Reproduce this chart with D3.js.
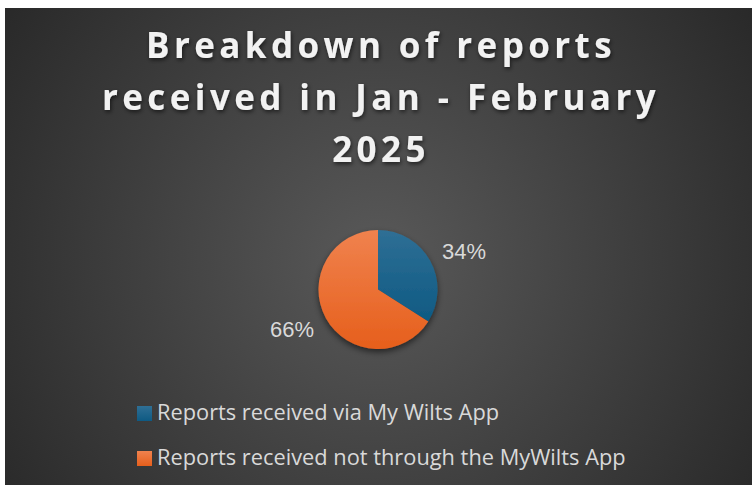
<html>
<head>
<meta charset="utf-8">
<script src="https://d3js.org/d3.v7.min.js"></script>
<style>
  body { margin: 0; background: #fff; }
  svg { display: block; }
</style>
</head>
<body>
<svg id="chart" width="755" height="485"></svg>
<script>
var categories = ["Reports received via My Wilts App", "Reports received not through the MyWilts App"];
var shares = [34, 66];
var pctLabels = ["34%", "66%"];
var titleLines = ["Breakdown of reports", "received in Jan - February", "2025"];

var W = 755, H = 485;
var svg = d3.select("#chart");
var defs = svg.append("defs");

// background radial gradient
var bg = defs.append("radialGradient").attr("id", "bg")
  .attr("gradientUnits", "userSpaceOnUse")
  .attr("cx", 378).attr("cy", 260).attr("r", 480);
bg.append("stop").attr("offset", "0%").attr("stop-color", "#595959");
bg.append("stop").attr("offset", "100%").attr("stop-color", "#262626");

var g0 = defs.append("linearGradient").attr("id", "s0").attr("x1", 0).attr("y1", 0).attr("x2", 0).attr("y2", 1);
g0.append("stop").attr("offset", "0%").attr("stop-color", "#2f6f95");
g0.append("stop").attr("offset", "100%").attr("stop-color", "#0e5a83");
var g1 = defs.append("linearGradient").attr("id", "s1").attr("x1", 0).attr("y1", 0).attr("x2", 0).attr("y2", 1);
g1.append("stop").attr("offset", "0%").attr("stop-color", "#f0824e");
g1.append("stop").attr("offset", "100%").attr("stop-color", "#e65f1c");

var sh = defs.append("filter").attr("id", "shadow").attr("x", "-20%").attr("y", "-20%").attr("width", "140%").attr("height", "140%");
sh.append("feDropShadow").attr("dx", 0).attr("dy", 3).attr("stdDeviation", 3)
  .attr("flood-color", "#000").attr("flood-opacity", 0.55);

var ts = defs.append("filter").attr("id", "tshadow").attr("x", "-10%").attr("y", "-30%").attr("width", "120%").attr("height", "160%");
ts.append("feDropShadow").attr("dx", 1).attr("dy", 2).attr("stdDeviation", 2)
  .attr("flood-color", "#000").attr("flood-opacity", 0.6);

svg.append("rect").attr("x", 5).attr("y", 8).attr("width", 747).attr("height", H - 8)
  .attr("fill", "url(#bg)");

// title
svg.append("g").attr("filter", "url(#tshadow)")
  .selectAll("text").data(titleLines).join("text")
  .attr("x", 381).attr("y", function(d, i) { return 58 + i * 52; })
  .attr("text-anchor", "middle")
  .attr("font-family", "'Open Sans', sans-serif")
  .attr("font-weight", 700)
  .attr("font-size", 35)
  .attr("letter-spacing", 4.4)
  .attr("fill", "#f2f2f2")
  .text(function(d) { return d; });

// pie
var cx = 378, cy = 289.5, R = 59.5;
var pie = d3.pie().sort(null).value(function(d) { return d; });
var arcs = pie(shares);
var arc = d3.arc().innerRadius(0).outerRadius(R);
var pg = svg.append("g").attr("transform", "translate(" + cx + "," + cy + ")");
pg.append("g").attr("filter", "url(#shadow)")
  .selectAll("path").data(arcs).join("path")
  .attr("d", arc)
  .attr("fill", function(d, i) { return "url(#s" + i + ")"; });

// percentage labels (outside end)
var labelPos = [[464, 259], [292, 337]];
pg.selectAll("text.pct").data(arcs).join("text")
  .attr("class", "pct")
  .attr("x", function(d, i) { return labelPos[i][0] - cx; })
  .attr("y", function(d, i) { return labelPos[i][1] - cy; })
  .attr("text-anchor", "middle")
  .attr("font-family", "'Liberation Sans', Arial, sans-serif")
  .attr("font-size", 22)
  .attr("fill", "#d9d9d9")
  .text(function(d, i) { return pctLabels[i]; });

// legend
var lg = svg.append("g");
var rows = lg.selectAll("g").data(categories).join("g")
  .attr("transform", function(d, i) { return "translate(137," + (406 + i * 45) + ")"; });
rows.append("rect").attr("width", 15).attr("height", 15).attr("y", 0)
  .attr("fill", function(d, i) { return "url(#s" + i + ")"; });
rows.append("text").attr("x", 20).attr("y", 14)
  .attr("font-family", "'Open Sans', sans-serif")
  .attr("font-size", 21.8)
  .attr("fill", "#d9d9d9")
  .text(function(d) { return d; });
</script>
</body>
</html>
